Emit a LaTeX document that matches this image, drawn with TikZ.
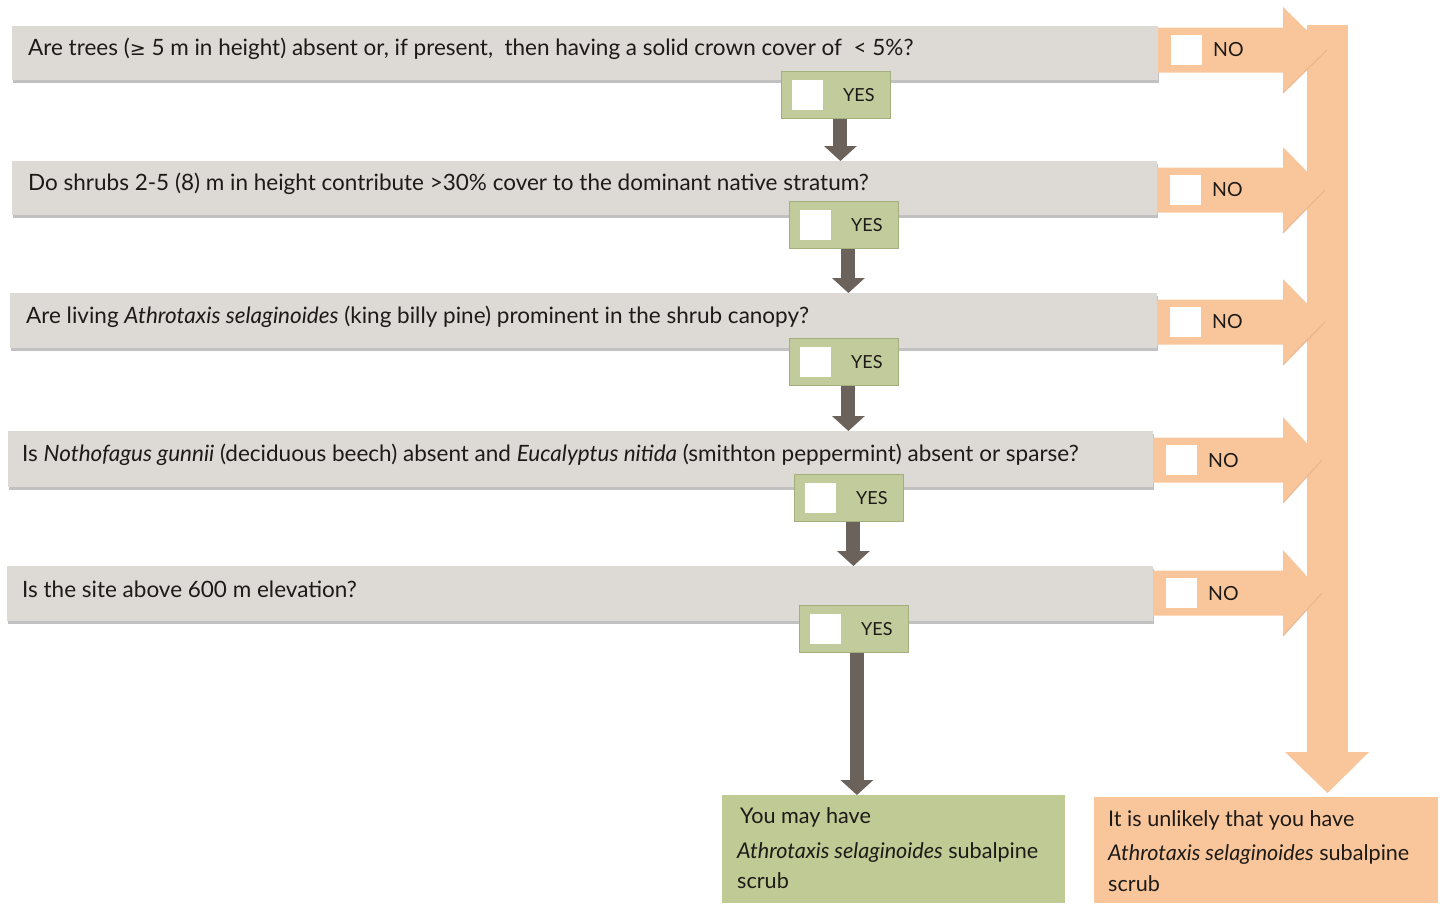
\documentclass[tikz,border=0pt]{standalone}
\usepackage{fontspec}
\setmainfont{Lato}
\newfontfamily\symfont{DejaVu Sans}
\usetikzlibrary{shadows,arrows.meta}
\definecolor{barc}{HTML}{DDDAD6}
\definecolor{yesc}{HTML}{C2CB9C}
\definecolor{yesd}{HTML}{A3AF7D}
\definecolor{orng}{HTML}{F9C69B}
\definecolor{orngd}{HTML}{E6B088}
\definecolor{resg}{HTML}{BFCA95}
\definecolor{darr}{HTML}{6B625B}
\definecolor{txt}{HTML}{1E1A18}
\tikzset{
  qbar/.style={fill=barc, draw=none, anchor=north west, inner sep=0pt,
    drop shadow={shadow xshift=0.5pt, shadow yshift=-3pt, opacity=0.35, fill=black!70}},
  qtext/.style={anchor=west, inner sep=0pt, text=txt, font=\fontsize{22.5}{26}\selectfont},
  yesbox/.style={fill=yesc, draw=yesd, line width=0.8pt, anchor=north west, inner sep=0pt,
    minimum width=109pt, minimum height=47pt},
  wsq/.style={fill=white, draw=none, inner sep=0pt, minimum width=31pt, minimum height=30pt},
  lbl/.style={inner sep=0pt, text=txt, font=\fontsize{18}{20}\selectfont},
  nolbl/.style={inner sep=0pt, text=txt, font=\fontsize{19.5}{20}\selectfont},
  downarr/.style={draw=darr, line width=14pt, -{Triangle[width=32pt,length=15pt]}},
  resbox/.style={anchor=north west, inner sep=0pt},
  restext/.style={anchor=west, inner sep=0pt, text=txt, font=\fontsize{21.6}{26}\selectfont},
}
\newcommand\NoArrow[4]{% name, x0, yc, tip
  \fill[orng] (#2,#3-22.5) -- (1283,#3-22.5) -- (1283,#3-43) -- (#4,#3) -- (1283,#3+43)
     -- (1283,#3+22.5) -- (#2,#3+22.5) -- cycle;
  \draw[orngd, line width=1.2pt, opacity=0.7] (#4,#3) -- (1283,#3+43);
  \node[wsq, anchor=west] (#1sq) at (#2+13,#3) {};
  \node[nolbl, anchor=west] (#1) at (#2+55,#3) {NO};
}
\begin{document}
\begin{tikzpicture}[x=1pt,y=-1pt]
\useasboundingbox (0,0) rectangle (1443,903);

% orange trunk
\coordinate (trunktop) at (1327.5,25);
\coordinate (trunkend) at (1327.5,793);
\fill[orng] (1307,25) rectangle (1348,752);
\fill[orng] (1285,752) -- (1369,752) -- (trunkend) -- cycle;

% grey question bars
\node[qbar, minimum width=1146pt, minimum height=54pt] (q1) at (12,26) {};
\node[qbar, minimum width=1145pt, minimum height=54pt] (q2) at (12,161) {};
\node[qbar, minimum width=1147pt, minimum height=55pt] (q3) at (10,293) {};
\node[qbar, minimum width=1145pt, minimum height=56pt] (q4) at (8,431) {};
\node[qbar, minimum width=1146pt, minimum height=55pt] (q5) at (7,566) {};

\node[qtext] (t1) at (28,49) {Are trees ({\symfont\fontsize{19}{20}\selectfont ≥} 5 m in height) absent or, if present,\ \ then having a solid\ crown cover of\ \ < 5\%?};
\node[qtext] (t2) at (28,184) {Do shrubs 2-5 (8) m in height contribute >30\% cover to the dominant native stratum?};
\node[qtext] (t3) at (26,317) {Are living \textit{Athrotaxis selaginoides} (king billy pine) prominent in the shrub canopy?};
\node[qtext] (t4) at (22,455) {Is \textit{Nothofagus gunnii} (deciduous beech) absent and \textit{Eucalyptus nitida} (smithton peppermint) absent or sparse?};
\node[qtext] (t5) at (22,589) {Is the site above 600 m elevation?};

% NO arrows
\NoArrow{no1}{1158}{50}{1327}
\NoArrow{no2}{1157}{190}{1325}
\NoArrow{no3}{1157}{322}{1325}
\NoArrow{no4}{1153}{460}{1322}
\NoArrow{no5}{1153}{593}{1322}

% result boxes
\fill[resg] (722,795) rectangle (1065,903);
\node[resbox, minimum width=343pt, minimum height=108pt] (ry) at (722,795) {};
\fill[orng] (1094,797) rectangle (1438,903);
\node[resbox, minimum width=344pt, minimum height=106pt] (rn) at (1094,797) {};
\node[restext] (ry1) at (740,817) {You may have};
\node[restext] (ry2) at (737,852) {\textit{Athrotaxis selaginoides} subalpine};
\node[restext] (ry3) at (737,881) {scrub};
\node[restext] (rn1) at (1108,820) {It is unlikely that you have};
\node[restext] (rn2) at (1108,854) {\textit{Athrotaxis selaginoides} subalpine};
\node[restext] (rn3) at (1108,884) {scrub};

% YES boxes
\foreach \n/\x/\y in {1/781/71, 2/789/201, 3/789/338, 4/794/474, 5/799/605}{
  \node[yesbox] (yes\n) at (\x,\y) {};
  \node[wsq, anchor=west] (yes\n sq) at ([xshift=11pt]yes\n.west) {};
  \node[lbl] (yes\n l) at ([xshift=23pt]yes\n.center) {YES};
}

% down arrows
\draw[downarr] ([xshift=4.5pt]yes1.south) -- ([xshift=4.5pt]yes1.south |- q2.north);
\draw[downarr] ([xshift=4.5pt]yes2.south) -- ([xshift=4.5pt]yes2.south |- q3.north);
\draw[downarr] ([xshift=4.5pt]yes3.south) -- ([xshift=4.5pt]yes3.south |- q4.north);
\draw[downarr] ([xshift=4.5pt]yes4.south) -- ([xshift=4.5pt]yes4.south |- q5.north);
\draw[downarr] ([xshift=3pt]yes5.south) -- ([xshift=3pt]yes5.south |- ry.north);
\end{tikzpicture}
\end{document}
